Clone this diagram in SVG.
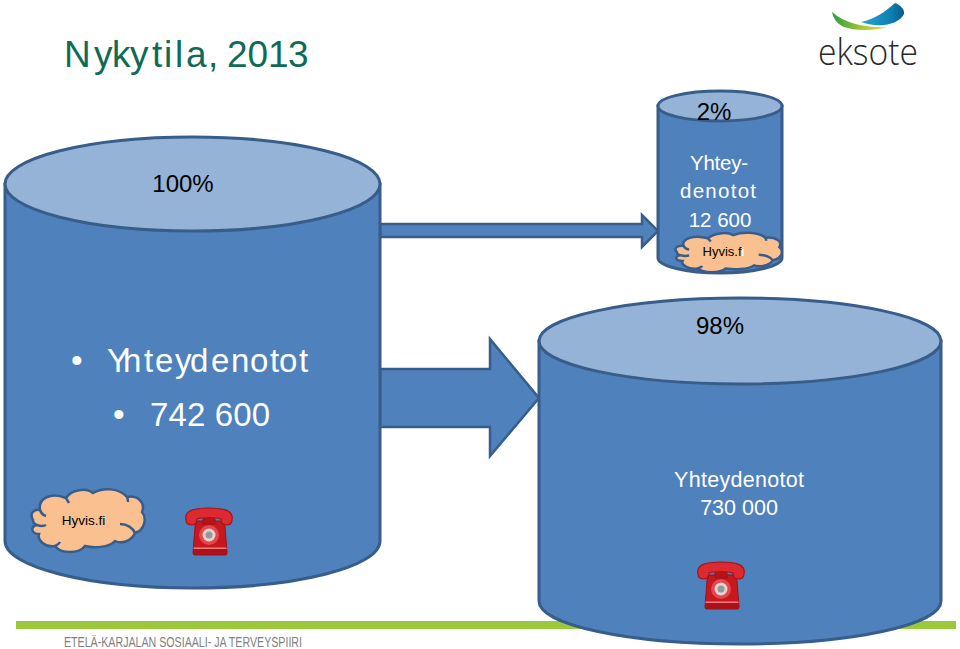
<svg xmlns="http://www.w3.org/2000/svg" width="960" height="649" viewBox="0 0 960 649">
<style>
text{font-family:"Liberation Sans",Arial,sans-serif}
.body{fill:#4f81bd;stroke:#385d8a;stroke-width:3}
.top{fill:#95b3d7;stroke:#385d8a;stroke-width:3}
.arrow{fill:#4f81bd;stroke:#385d8a;stroke-width:2.5}
.w{fill:#fff;text-anchor:middle}
.k{fill:#000;text-anchor:middle}
</style>
<defs>
<linearGradient id="blue" x1="0" x2="1" y1="0" y2="0"><stop offset="0" stop-color="#25a6d6"/><stop offset="0.7" stop-color="#0d7fb3"/><stop offset="1" stop-color="#0b5a85"/></linearGradient>
<linearGradient id="green" x1="0" x2="1" y1="0" y2="0"><stop offset="0" stop-color="#2f9a45"/><stop offset="0.55" stop-color="#a5c92f"/><stop offset="1" stop-color="#dcdc50"/></linearGradient>
<g id="cloud">
<path fill="#fac090" stroke="#385d8a" stroke-width="2.500" vector-effect="non-scaling-stroke" d="M2 32C-2 25 3 21 9 22C7 10 20 4 35 10C40 2 55-1 62 5C72-1 88 0 96 9C106 7 115 14 111 24C116 30 114 42 104 45C100 54 90 56 84 53C78 60 62 60 54 58C48 66 30 66 24 58C14 60 6 52 8 46C0 46-1 38 6 37C3 36 2 34 2 32Z"/>
<path fill="none" stroke="#385d8a" stroke-width="2.500" vector-effect="non-scaling-stroke" d="M9 22C10 25 12 27 15 28M6 37C9 38 13 38 15 37M24 58C26 57 28 56 29 54M89 36C96 36 102 40 104 45M35 10C36 12 37 13 38 15M96 9C97 11 97 12 97 14"/>
</g>
<g id="phone">
<path d="M13 14H35Q39 14 40 20L42 46Q42 48 40 48H10Q8 48 8 46L10 20Q11 14 13 14Z" fill="#c8181f" stroke="#9c1116" stroke-width="1"/>
<rect x="8" y="42" width="34" height="6" fill="#a81218"/>
<rect x="8.500" y="40.500" width="33" height="1.500" fill="#f07a7a"/>
<path d="M1 13C-1 4 8 1 24 1C40 1 49 4 47 13C47 17 44 18 41 18C38 18 36 16 36 12C30 10 18 10 12 12C12 16 10 18 7 18C4 18 1 17 1 13Z" fill="#dc2a30" stroke="#a81218" stroke-width="1.200"/>
<path d="M18 11V17H30V11" fill="#b5141a" stroke="#9c1116" stroke-width="1"/>
<circle cx="24" cy="28" r="10" fill="#e0484d"/>
<circle cx="24" cy="28" r="6.500" fill="#ecd0d0"/>
<circle cx="24" cy="28" r="3.500" fill="#8f9a9f"/>
</g>
</defs>

<rect id="footer-bar" x="16" y="621" width="940" height="8" fill="#9bc93b"/>

<g id="connectors">
<path class="arrow" d="M380 224H642V215L658 231L642 247V237H380Z"/>
<path class="arrow" d="M380 369H490V339L539 398L490 456V427H380Z"/>
</g>

<g id="cylinder-total">
<path class="body" d="M5 184V541C5 567 89 588 192.500 588S380 567 380 541V184Z"/>
<ellipse class="top" cx="192.500" cy="184" rx="187.500" ry="47"/>
<text class="k" x="183" y="192" font-size="24">100%</text>
<text fill="#fff" x="71" y="372" font-size="33">•</text>
<text fill="#fff" y="372" font-size="33" x="107 123 144 155 175 190 211 231 250 270 279 299">Yhteydenotot</text>
<text fill="#fff" x="113" y="426" font-size="33">•</text>
<text fill="#fff" x="150" y="426" font-size="33" textLength="120">742 600</text>
</g>

<g id="cloud-total">
<use href="#cloud" transform="translate(31,488)"/>
<text class="k" x="83.500" y="525" font-size="13.500">Hyvis.fi</text>
</g>
<use id="phone-total" href="#phone" transform="translate(185,507)"/>

<g id="cylinder-small">
<path class="body" d="M658 106V258C658 266 686 273 720 273S782 266 782 258V106Z"/>
<ellipse class="top" cx="720" cy="106" rx="62" ry="15"/>
<text class="k" x="714" y="120" font-size="24">2%</text>
<text class="w" x="719" y="170" font-size="20.500" textLength="58">Yhtey-</text>
<text class="w" x="718" y="198" font-size="20.500" textLength="76">denotot</text>
<text class="w" x="720" y="227" font-size="20.500">12 600</text>
</g>

<g id="cloud-small">
<use href="#cloud" transform="translate(675,232) scale(0.94,0.63)"/>
<text class="k" x="723.500" y="256" font-size="13">Hyvis.f<tspan fill="#fff">i</tspan></text>
</g>

<g id="cylinder-main">
<path class="body" d="M539 341V601C539 625 629 644 740 644S941 625 941 601V341Z"/>
<ellipse class="top" cx="740" cy="341" rx="201" ry="43"/>
<text class="k" x="720" y="334" font-size="24">98%</text>
<text class="w" x="739" y="487" font-size="21.500" textLength="130">Yhteydenotot</text>
<text class="w" x="739" y="515" font-size="21.500">730 000</text>
</g>
<use id="phone-main" href="#phone" transform="translate(697,561)"/>

<text id="title" y="67" font-size="37" fill="#0f6b55" x="64 94 112 130 152 164 175 186 208 219 227 247.500 268 288">Nykytila, 2013</text>
<text id="footer" x="64" y="647" font-size="14" fill="#808080" textLength="238" lengthAdjust="spacingAndGlyphs">ETELÄ-KARJALAN SOSIAALI- JA TERVEYSPIIRI</text>

<g id="logo">
<path d="M832 12C845 24 868 28 887 27C876 31 855 31 844 27C837 24 833 18 832 12Z" fill="url(#green)"/>
<path d="M861 22C875 19 885 12 895 3C900 5 905 9 904 14C902 19 894 24 884 25C875 26 867 24 861 22Z" fill="url(#blue)"/>
<text x="818" y="65" fill="#2a2a2a" textLength="100" lengthAdjust="spacingAndGlyphs" style="font-family:'Open Sans','Noto Sans',sans-serif;font-weight:300;font-size:37px">eksote</text>
</g>
</svg>
